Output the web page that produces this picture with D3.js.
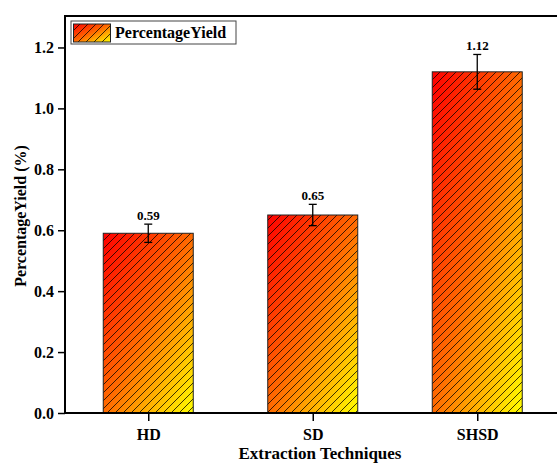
<!DOCTYPE html>
<html><head><meta charset="utf-8">
<script src="https://cdn.jsdelivr.net/npm/d3@7"></script>
<style>html,body{margin:0;padding:0;background:#fff;overflow:hidden}</style>
</head><body>
<script>
const categories = ["HD", "SD", "SHSD"];
const values = [0.59, 0.65, 1.12];
const errors = [0.03, 0.035, 0.057];
const valueLabels = ["0.59", "0.65", "1.12"];
const yTicks = [0.0, 0.2, 0.4, 0.6, 0.8, 1.0, 1.2];
const seriesName = "PercentageYield";
const xTitle = "Extraction Techniques";
const yTitle = "PercentageYield (%)";

const W = 557, H = 464;
const font = "'Liberation Serif','Times New Roman',serif";
const svg = d3.select("body").append("svg").attr("width", W).attr("height", H);
const defs = svg.append("defs");

const grad = defs.append("linearGradient").attr("id", "grad")
  .attr("x1", 0).attr("y1", 0).attr("x2", 1).attr("y2", 1);
grad.append("stop").attr("offset", 0).attr("stop-color", "#ff0000");
grad.append("stop").attr("offset", 0.5).attr("stop-color", "#ff6a00");
grad.append("stop").attr("offset", 1).attr("stop-color", "#ffff00");

const pat = defs.append("pattern").attr("id", "hatch").attr("patternUnits", "userSpaceOnUse")
  .attr("width", 8).attr("height", 8);
pat.append("path").attr("d", "M-2,2 L2,-2 M0,8 L8,0 M6,10 L10,6")
  .attr("stroke", "#000").attr("stroke-width", 0.9).attr("stroke-opacity", 0.85);

const x0 = 65, yTop = 16, yBase = 413;
const x = d3.scalePoint().domain(categories).range([66, 559.5]).padding(0.5);
const y = d3.scaleLinear().domain([0, 1.3]).range([yBase, 17]);
const barW = 90;

// bars
const g = svg.append("g");
categories.forEach((c, i) => {
  const bx = x(c) - barW / 2, by = y(values[i]), bh = y(0) - y(values[i]);
  g.append("rect").attr("x", bx).attr("y", by).attr("width", barW).attr("height", bh)
    .attr("fill", "url(#grad)");
  g.append("rect").attr("x", bx).attr("y", by).attr("width", barW).attr("height", bh)
    .attr("fill", "url(#hatch)").attr("stroke", "#222").attr("stroke-width", 1);
  // error bar
  const cx = x(c), hi = y(values[i] + errors[i]), lo = y(values[i] - errors[i]);
  g.append("line").attr("x1", cx).attr("x2", cx).attr("y1", hi).attr("y2", lo)
    .attr("stroke", "#000").attr("stroke-width", 1.3);
  [hi, lo].forEach(yy => g.append("line").attr("x1", cx - 4).attr("x2", cx + 4)
    .attr("y1", yy).attr("y2", yy).attr("stroke", "#000").attr("stroke-width", 1.3));
  g.append("text").attr("x", cx).attr("y", hi - 4).attr("text-anchor", "middle")
    .style("font-family", font).attr("font-weight", "bold").attr("font-size", 13)
    .attr("fill", "#000").text(valueLabels[i]);
});

// y axis
const yAxis = svg.append("g").attr("transform", `translate(${x0},0)`)
  .call(d3.axisLeft(y).tickValues(yTicks).tickFormat(d3.format(".1f")).tickSize(7).tickPadding(4));
yAxis.select(".domain").remove();
yAxis.attr("font-family", null).attr("font-size", null);
yAxis.selectAll(".tick line").attr("stroke", "#000").attr("stroke-width", 1.5);
yAxis.selectAll(".tick text").style("font-family", font).attr("font-weight", "bold")
  .attr("font-size", 16).attr("fill", "#000");

// x axis
const xAxis = svg.append("g").attr("transform", `translate(0,${yBase})`)
  .call(d3.axisBottom(x).tickSize(8).tickPadding(8));
xAxis.select(".domain").remove();
xAxis.attr("font-family", null).attr("font-size", null);
xAxis.selectAll(".tick line").attr("stroke", "#000").attr("stroke-width", 1.5);
xAxis.selectAll(".tick text").style("font-family", font).attr("font-weight", "bold")
  .attr("font-size", 16).attr("fill", "#000");

// frame
svg.append("line").attr("x1", x0).attr("x2", x0).attr("y1", yTop).attr("y2", yBase + 1)
  .attr("stroke", "#000").attr("stroke-width", 2);
svg.append("line").attr("x1", x0 - 1).attr("x2", W).attr("y1", yBase).attr("y2", yBase)
  .attr("stroke", "#000").attr("stroke-width", 2);
svg.append("line").attr("x1", x0 - 1).attr("x2", W).attr("y1", yTop).attr("y2", yTop)
  .attr("stroke", "#000").attr("stroke-width", 2);

// titles
svg.append("text").attr("x", 320).attr("y", 459).attr("text-anchor", "middle")
  .style("font-family", font).attr("font-weight", "bold").attr("font-size", 17)
  .attr("fill", "#000").text(xTitle);
svg.append("text").attr("transform", "translate(26,216) rotate(-90)").attr("text-anchor", "middle")
  .style("font-family", font).attr("font-weight", "bold").attr("font-size", 16)
  .attr("fill", "#000").text(yTitle);

// legend
const lg = svg.append("g");
lg.append("rect").attr("x", 71).attr("y", 21).attr("width", 165).attr("height", 23)
  .attr("fill", "#fff").attr("stroke", "#444").attr("stroke-width", 1);
lg.append("rect").attr("x", 73.5).attr("y", 24).attr("width", 37).attr("height", 18)
  .attr("fill", "url(#grad)");
lg.append("rect").attr("x", 73.5).attr("y", 24).attr("width", 37).attr("height", 18)
  .attr("fill", "url(#hatch)").attr("stroke", "#222").attr("stroke-width", 1);
lg.append("text").attr("x", 115).attr("y", 38).style("font-family", font)
  .attr("font-weight", "bold").attr("font-size", 16).attr("fill", "#000").text(seriesName);
</script>
</body></html>
